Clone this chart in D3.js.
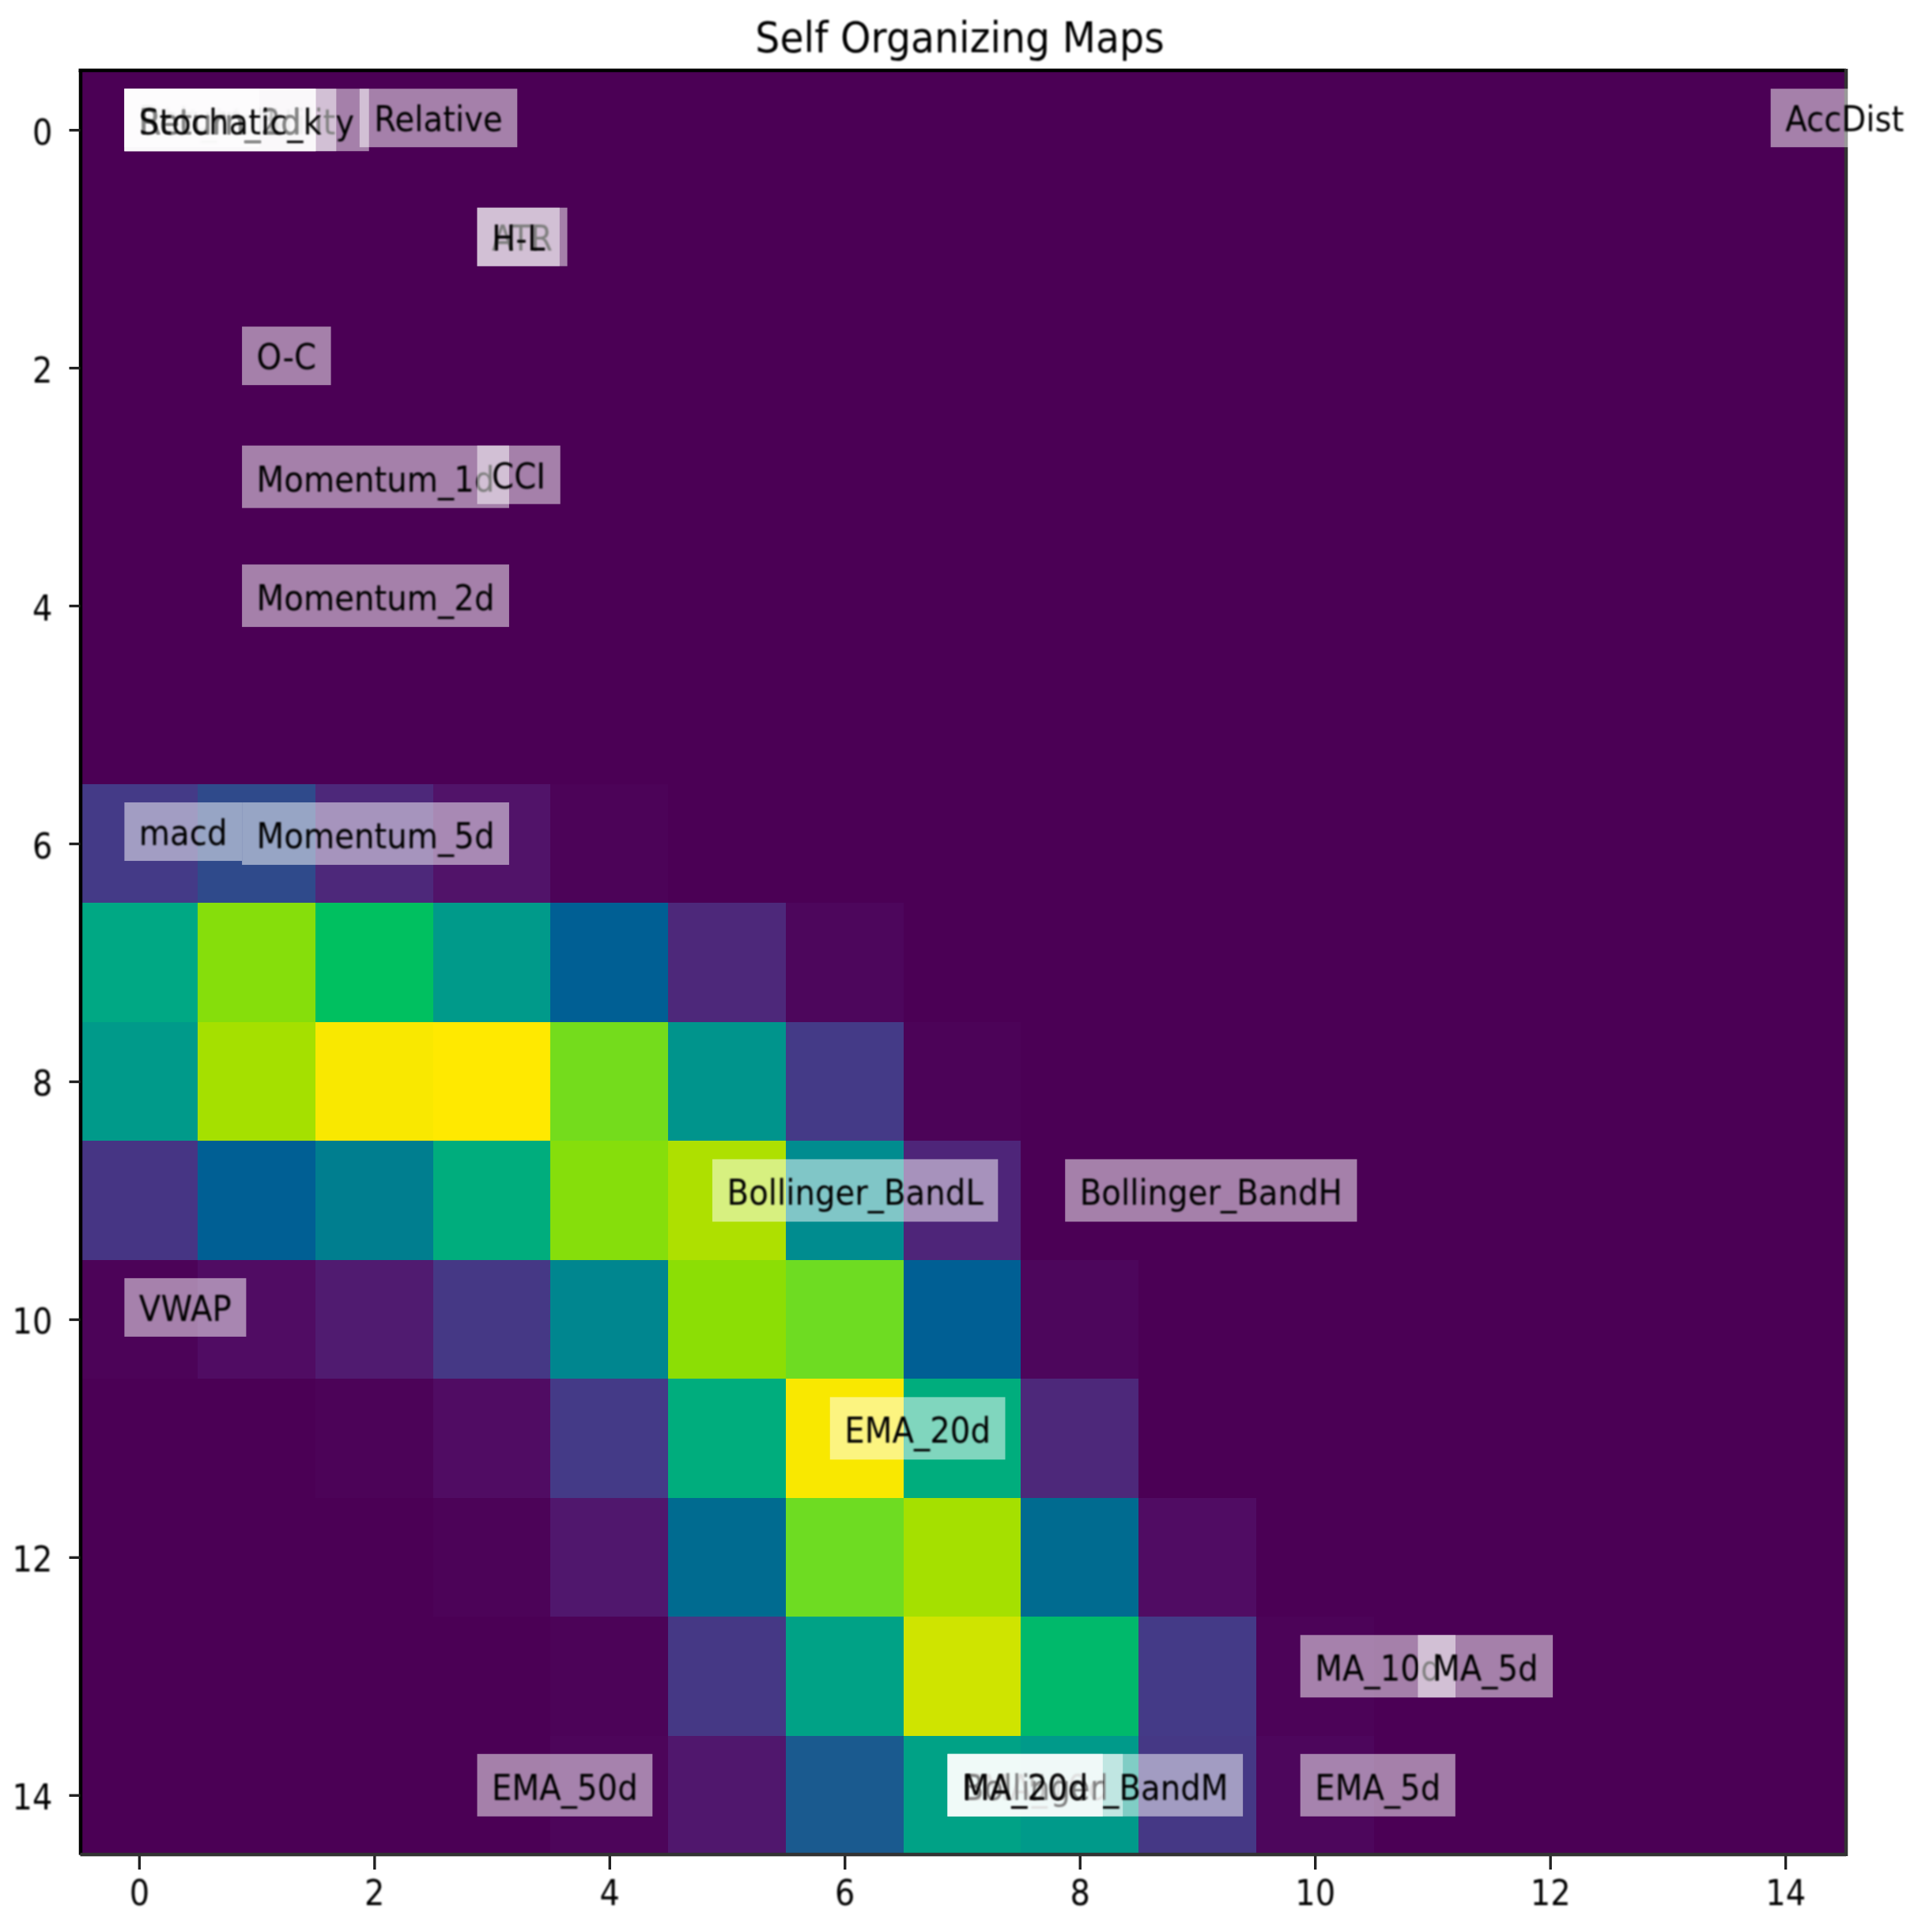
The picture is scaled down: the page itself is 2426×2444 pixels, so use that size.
<!DOCTYPE html>
<html>
<head>
<meta charset="utf-8">
<script src="https://cdn.jsdelivr.net/npm/d3@7"></script>
<style>
  body { margin: 0; background: #fff; }
  text { font-family: "DejaVu Sans", sans-serif; fill: #000; }
</style>
</head>
<body>
<div id="chart"></div>
<script>
const gridTicks = [0, 2, 4, 6, 8, 10, 12, 14];
const titleText = "Self Organizing Maps";

// som distance map, rows 0-5 are flat so only the lower rows carry values
const row0 = [0,0,0,0,0,0,0,0,0,0,0,0,0,0,0];
const row1 = [0,0,0,0,0,0,0,0,0,0,0,0,0,0,0];
const row2 = [0,0,0,0,0,0,0,0,0,0,0,0,0,0,0];
const row3 = [0,0,0,0,0,0,0,0,0,0,0,0,0,0,0];
const row4 = [0,0,0,0,0,0,0,0,0,0,0,0,0,0,0];
const row5 = [0,0,0,0,0,0,0,0,0,0,0,0,0,0,0];
const row6 = [0.2,0.25,0.12,0.06,0.01,0,0,0,0,0,0,0,0,0,0];
const row7 = [0.6,0.84,0.7,0.55,0.33,0.12,0.02,0,0,0,0,0,0,0,0];
const row8 = [0.55,0.87,0.98,1,0.81,0.53,0.2,0.01,0,0,0,0,0,0,0];
const row9 = [0.18,0.33,0.45,0.62,0.84,0.89,0.5,0.11,0,0,0,0,0,0,0];
const row10 = [0.01,0.04,0.08,0.19,0.48,0.85,0.8,0.33,0.02,0,0,0,0,0,0];
const row11 = [0,0,0.01,0.04,0.2,0.62,0.98,0.62,0.12,0,0,0,0,0,0];
const row12 = [0,0,0,0.01,0.07,0.38,0.8,0.87,0.38,0.04,0,0,0,0,0];
const row13 = [0,0,0,0,0.01,0.19,0.58,0.93,0.67,0.2,0.01,0,0,0,0];
const row14 = [0,0,0,0,0.015,0.07,0.3,0.58,0.55,0.19,0.02,0,0,0,0];
const matrix = [row0,row1,row2,row3,row4,row5,row6,row7,row8,row9,row10,row11,row12,row13,row14];

// feature labels, in drawing order (later ones cover earlier ones)
const labelNames = ["Hist_Volatility","Return","Return_5d","Return_1d","Return_2d","Stochatic_k","Relative","AccDist",
  "ATR","H-L","O-C","Momentum_1d","CCI","Momentum_2d","macd","Momentum_5d","Bollinger_BandL","Bollinger_BandH",
  "VWAP","EMA_20d","MA_10d","MA_5d","EMA_50d","EMA_10d","MA_50d","Bollinger_BandM","MA_20d","EMA_5d"];
const labelCols = [0,0,0,0,0,0,2,14,3,3,1,1,3,1,0,1,5,8,0,6,10,11,3,7,7,7,7,10];
const labelRows = [0,0,0,0,0,0,0,0,1,1,2,3,3,4,6,6,9,9,10,11,13,13,14,14,14,14,14,14];

// colormap stops as they look in the picture (a punchier viridis)
const colorStops = [0,0.05,0.1,0.2,0.3,0.33,0.4,0.5,0.6,0.7,0.8,0.85,0.87,0.89,0.93,0.98,1];
const colorValues = ["#4b0055","#510f66","#4f2377","#443a87","#1a5a8f","#005f94","#00708f","#008c8f","#00a884","#00c060",
  "#6edc22","#8cde05","#a5e000","#aee000","#cfe400","#f9e800","#ffe900"];

const svgWidth = 2426;
const svgHeight = 2444;
const plotLeft = 101.5, plotRight = 2335, plotTop = 89, plotBottom = 2346;
const textStretch = 1.12;

const x = d3.scaleLinear().domain([-0.5, 14.5]).range([plotLeft, plotRight - 2.5]);
const y = d3.scaleLinear().domain([-0.5, 14.5]).range([plotTop, plotBottom]);
const color = d3.scaleLinear().domain(colorStops).range(colorValues);

const svg = d3.select("#chart").append("svg")
  .attr("width", svgWidth)
  .attr("height", svgHeight)
  .style("display", "block");

const defs = svg.append("defs");
defs.append("filter").attr("id", "soft")
  .attr("x", "-5%").attr("y", "-20%").attr("width", "110%").attr("height", "140%")
  .append("feGaussianBlur").attr("stdDeviation", 0.9);

// background, lowest colour of the map
svg.append("rect")
  .attr("x", plotLeft).attr("y", plotTop)
  .attr("width", plotRight - plotLeft).attr("height", plotBottom - plotTop)
  .attr("fill", color(0));

// cells
const cells = [];
matrix.forEach((row, r) => row.forEach((v, c) => cells.push({ r, c, v })));
svg.append("g").selectAll("rect").data(cells).enter().append("rect")
  .attr("x", (d) => Math.round(x(d.c - 0.5)))
  .attr("y", (d) => Math.round(y(d.r - 0.5)))
  .attr("width", (d) => Math.round(x(d.c + 0.5)) - Math.round(x(d.c - 0.5)))
  .attr("height", (d) => Math.round(y(d.r + 0.5)) - Math.round(y(d.r - 0.5)))
  .attr("fill", (d) => color(d.v))
  .attr("shape-rendering", "crispEdges");

// axes
const xAxis = svg.append("g").attr("transform", `translate(0,${plotBottom})`)
  .call(d3.axisBottom(x).tickValues(gridTicks).tickSize(19).tickSizeOuter(0));
const yAxis = svg.append("g").attr("transform", `translate(${plotLeft},0)`)
  .call(d3.axisLeft(y).tickValues(gridTicks).tickSize(14).tickSizeOuter(0));

xAxis.select(".domain").attr("stroke", "none");
yAxis.select(".domain").attr("stroke", "#000").attr("stroke-width", 4.5);
svg.selectAll(".tick line").attr("stroke", "#222").attr("stroke-width", 3.4);

xAxis.selectAll("text")
  .attr("y", 0).attr("dy", 0)
  .attr("transform", `translate(0,64) scale(1,${textStretch})`)
  .attr("font-size", 40).attr("font-family", "DejaVu Sans")
  .attr("filter", "url(#soft)");
yAxis.selectAll("text")
  .attr("x", 0).attr("dy", 0)
  .attr("transform", `translate(-35,18) scale(1,${textStretch})`)
  .attr("font-size", 40).attr("font-family", "DejaVu Sans")
  .attr("filter", "url(#soft)");

// top, right and bottom spines
svg.append("path").attr("d", d3.line()([[plotLeft - 2, plotTop], [plotRight, plotTop]]))
  .attr("stroke", "#000").attr("stroke-width", 4.5).attr("fill", "none");
svg.append("path").attr("d", d3.line()([[plotRight, plotTop - 2], [plotRight, plotBottom + 2]]))
  .attr("stroke", "#333").attr("stroke-width", 4.5).attr("fill", "none");
svg.append("path").attr("d", d3.line()([[plotLeft, plotBottom], [plotRight, plotBottom]]))
  .attr("stroke", "#333").attr("stroke-width", 4.5).attr("fill", "none");

// labels with half transparent white boxes
labelNames.forEach((name, i) => {
  const px = x(labelCols[i]);
  const py = y(labelRows[i]);
  const deep = /[_y]/.test(name);
  const g = svg.append("g");
  const box = g.append("rect")
    .attr("fill", "#fff")
    .attr("fill-opacity", 0.5);
  const label = g.append("text")
    .attr("transform", `translate(${px},${py + (deep ? 6 : 2)}) scale(1,${textStretch})`)
    .attr("font-size", 40.3)
    .attr("filter", "url(#soft)")
    .text(name);
  box.attr("x", px - 18.5)
    .attr("y", py - 52)
    .attr("width", label.node().getComputedTextLength() + 37)
    .attr("height", deep ? 79 : 74);
});

// title
svg.append("text")
  .attr("transform", `translate(1214,65.5) scale(1,1.09)`)
  .attr("text-anchor", "middle")
  .attr("font-size", 49)
  .attr("filter", "url(#soft)")
  .text(titleText);
</script>
</body>
</html>
